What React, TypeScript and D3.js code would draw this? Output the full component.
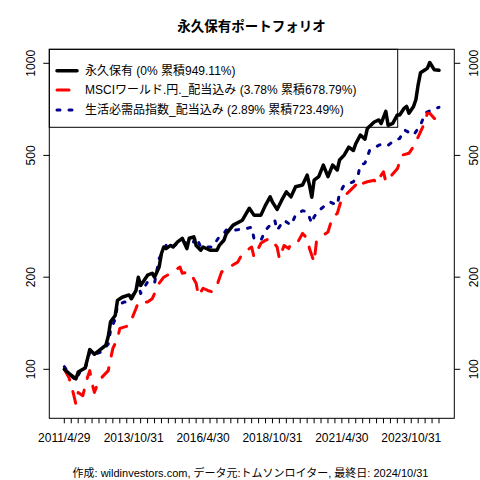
import React from "react";
import * as d3 from "d3";

const title = "永久保有ポートフォリオ";
const footer = "作成: wildinvestors.com, データ元:トムソンロイター, 最終日: 2024/10/31";
const seriesNames = [
  "永久保有 (0% 累積949.11%)",
  "MSCIワールド.円._配当込み (3.78% 累積678.79%)",
  "生活必需品指数_配当込み (2.89% 累積723.49%)",
];
const xTickLabels = ["2011/4/29", "2013/10/31", "2016/4/30", "2018/10/31", "2021/4/30", "2023/10/31"];
const xTickLabelMonths = [0, 30, 60, 90, 120, 150];
const yTicks = [100, 200, 500, 1000];
const lastMonth = 162;

const blackMonths = [0, 2, 5, 6, 9, 10, 11, 13, 15, 18, 19, 20, 22, 23, 25, 28, 29, 31, 32, 33, 36, 38, 39, 41, 42, 43, 44, 46, 47, 49, 51, 53, 54, 56, 57, 59, 60, 63, 66, 67, 69, 70, 73, 77, 80, 82, 85, 87, 89, 90, 92, 94, 96, 98, 100, 103, 105, 106, 107, 108, 110, 112, 114, 116, 118, 119, 121, 123, 125, 126, 128, 130, 131, 134, 136, 137, 139, 140, 142, 144, 145, 147, 148, 149, 151, 152, 153, 154, 156, 157, 158, 160, 162];
const blackValues = [100, 97, 93, 98, 101, 108, 116, 112, 115, 120, 128, 143, 150, 168, 172, 175, 170, 181, 200, 188, 203, 206, 200, 216, 239, 251, 248, 254, 251, 261, 268, 248, 268, 271, 254, 245, 251, 245, 245, 254, 264, 277, 296, 307, 336, 319, 319, 344, 366, 352, 333, 357, 380, 366, 395, 400, 431, 400, 365, 415, 426, 465, 426, 465, 448, 483, 501, 532, 519, 546, 583, 565, 612, 643, 653, 636, 697, 627, 636, 678, 678, 714, 723, 687, 723, 760, 852, 931, 952, 964, 1006, 952, 949];

const redMonths = [0, 2, 4, 5, 6, 8, 10, 11, 12, 13, 15, 19, 20, 21, 23, 24, 28, 29, 31, 32, 36, 38, 41, 43, 46, 48, 50, 51, 54, 55, 57, 58, 60, 62, 64, 66, 68, 70, 75, 77, 78, 81, 82, 85, 87, 89, 92, 93, 95, 97, 98, 101, 103, 105, 106, 108, 109, 111, 114, 116, 118, 120, 123, 126, 127, 129, 131, 134, 135, 137, 138, 139, 141, 144, 146, 149, 151, 153, 155, 157, 158, 160, 162];
const redValues = [100, 94, 83, 77, 84, 82, 94, 99, 90, 84, 92, 99, 108, 117, 126, 136, 139, 145, 158, 166, 166, 170, 191, 200, 206, 211, 216, 206, 208, 203, 191, 174, 184, 181, 179, 188, 208, 213, 224, 239, 242, 251, 233, 258, 264, 268, 251, 230, 254, 248, 258, 261, 278, 268, 248, 224, 261, 271, 281, 315, 323, 362, 380, 400, 415, 405, 410, 415, 405, 431, 442, 410, 426, 452, 501, 508, 535, 575, 620, 687, 687, 660, 665];

const blueMonths = [0, 2, 5, 7, 9, 11, 13, 16, 19, 20, 22, 23, 26, 28, 30, 32, 33, 36, 39, 41, 44, 46, 49, 51, 53, 55, 57, 59, 62, 64, 67, 69, 70, 74, 79, 81, 82, 85, 87, 91, 92, 95, 98, 100, 103, 105, 107, 108, 110, 113, 115, 118, 119, 121, 125, 127, 128, 130, 132, 136, 138, 140, 143, 145, 147, 151, 154, 156, 159, 162];
const blueValues = [102, 97, 92, 99, 100, 114, 112, 114, 121, 134, 146, 162, 166, 166, 177, 191, 177, 193, 191, 230, 254, 248, 258, 261, 258, 254, 271, 251, 251, 251, 271, 278, 285, 285, 289, 291, 268, 264, 285, 307, 285, 307, 296, 319, 330, 327, 300, 315, 330, 344, 352, 344, 376, 400, 410, 431, 465, 472, 519, 540, 546, 540, 561, 568, 606, 583, 627, 687, 706, 718];

const colors = ["#000000", "#FF0000", "#00008B"];
const widths = [3.5, 3, 3];
const dashes = [undefined, "12 12", "3 9"];

const FONT = "'Liberation Sans', 'Noto Sans CJK JP', sans-serif";

export default function App() {
  const left = 49.3, right = 454.3, top = 49.3, bottom = 418.3;
  const x = d3.scaleLinear().domain([0, lastMonth]).range([64.3, 439]);
  const y = d3.scaleLog().domain([100, 1000]).range([369.3, 63.3]);
  const line = d3
    .line<[number, number]>()
    .x((d) => x(d[0]))
    .y((d) => y(d[1]));

  const series = [
    d3.zip(blackMonths, blackValues) as [number, number][],
    d3.zip(redMonths, redValues) as [number, number][],
    d3.zip(blueMonths, blueValues) as [number, number][],
  ];
  const xTicks = d3.range(0, lastMonth + 1, 3);
  const legendRows = [70.7, 90, 110];

  return (
    <svg
      width={480}
      height={480}
      style={{ position: "absolute", left: 0, top: 0, background: "#fff" }}
      fontFamily={FONT}
    >
      <rect x={0} y={0} width={480} height={480} fill="#fff" />
      <text x={251.5} y={31} textAnchor="middle" fontSize={13.5} fontWeight="bold">
        {title}
      </text>
      {[2, 1, 0].map((k) => (
        <path
          key={k}
          d={line(series[k]) || ""}
          fill="none"
          stroke={colors[k]}
          strokeWidth={widths[k]}
          strokeDasharray={dashes[k]}
          strokeLinecap="round"
          strokeLinejoin="round"
        />
      ))}
      <rect x={left} y={top} width={right - left} height={bottom - top} fill="none" stroke="#000" strokeWidth={1} />
      {xTicks.map((t) => (
        <line key={t} x1={x(t)} x2={x(t)} y1={bottom} y2={bottom + 5} stroke="#000" strokeWidth={1} />
      ))}
      {xTickLabels.map((lab, i) => (
        <text key={lab} x={x(xTickLabelMonths[i])} y={441.5} textAnchor="middle" fontSize={12}>
          {lab}
        </text>
      ))}
      {yTicks.map((t) => (
        <g key={t}>
          <line x1={left - 6} x2={left} y1={y(t)} y2={y(t)} stroke="#000" />
          <line x1={right} x2={right + 6} y1={y(t)} y2={y(t)} stroke="#000" />
          <text transform={`translate(35,${y(t)}) rotate(-90)`} textAnchor="middle" fontSize={12}>
            {t}
          </text>
          <text transform={`translate(477.5,${y(t)}) rotate(-90)`} textAnchor="middle" fontSize={12}>
            {t}
          </text>
        </g>
      ))}
      <rect x={left} y={top} width={397.7 - left} height={127.3 - top} fill="none" stroke="#000" strokeWidth={1} />
      {seriesNames.map((name, k) => (
        <g key={name}>
          <line
            x1={57}
            x2={77}
            y1={legendRows[k]}
            y2={legendRows[k]}
            stroke={colors[k]}
            strokeWidth={widths[k]}
            strokeDasharray={dashes[k]}
            strokeLinecap="round"
          />
          <text x={85} y={legendRows[k] + 4.3} fontSize={12}>
            {name}
          </text>
        </g>
      ))}
      <text x={250.5} y={476.5} textAnchor="middle" fontSize={11}>
        {footer}
      </text>
    </svg>
  );
}
